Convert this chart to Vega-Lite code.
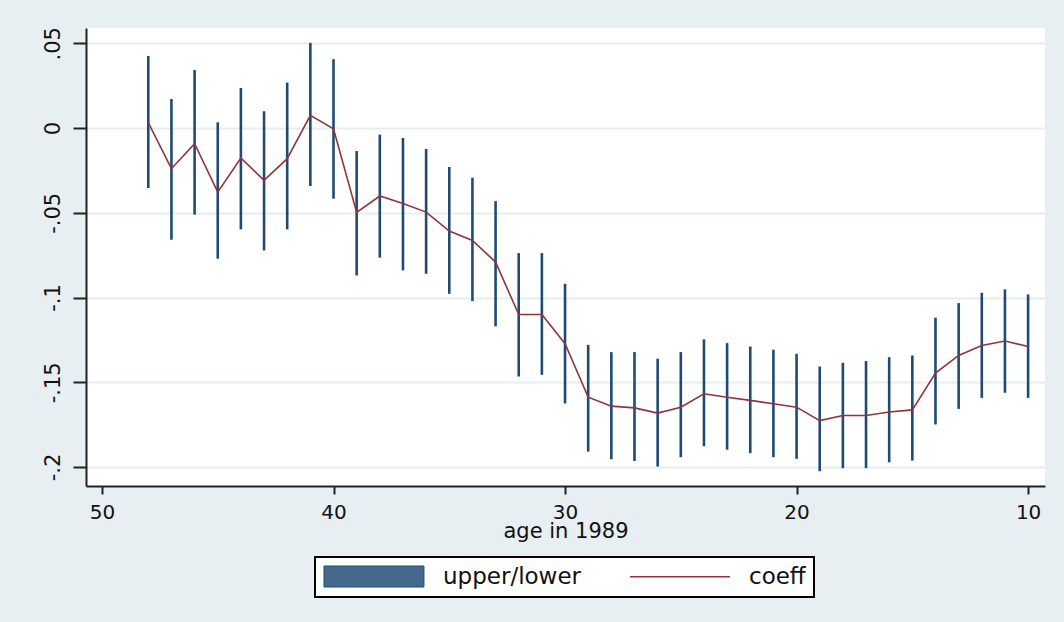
{
  "$schema": "https://vega.github.io/schema/vega-lite/v6.json",
  "width": 959,
  "height": 458,
  "autosize": {"type": "none"},
  "padding": {"left": 86, "top": 28, "right": 19, "bottom": 136},
  "background": "#e8eff2",
  "config": {"font": "DejaVu Sans", "view": {"fill": "#ffffff", "stroke": null}},
  "data": {"values": [
    {"age": 48, "coeff": 0.0032, "upper": 0.0425, "lower": -0.0354},
    {"age": 47, "coeff": -0.024, "upper": 0.0171, "lower": -0.0659},
    {"age": 46, "coeff": -0.0092, "upper": 0.0342, "lower": -0.0511},
    {"age": 45, "coeff": -0.0378, "upper": 0.0034, "lower": -0.0771},
    {"age": 44, "coeff": -0.0177, "upper": 0.0236, "lower": -0.0598},
    {"age": 43, "coeff": -0.0309, "upper": 0.0099, "lower": -0.0722},
    {"age": 42, "coeff": -0.0181, "upper": 0.0268, "lower": -0.0598},
    {"age": 41, "coeff": 0.0075, "upper": 0.0502, "lower": -0.0342},
    {"age": 40, "coeff": -0.0005, "upper": 0.0406, "lower": -0.0417},
    {"age": 39, "coeff": -0.0498, "upper": -0.0136, "lower": -0.087},
    {"age": 38, "coeff": -0.0401, "upper": -0.0039, "lower": -0.0765},
    {"age": 37, "coeff": -0.0446, "upper": -0.0059, "lower": -0.084},
    {"age": 36, "coeff": -0.0496, "upper": -0.0124, "lower": -0.086},
    {"age": 35, "coeff": -0.0608, "upper": -0.023, "lower": -0.0978},
    {"age": 34, "coeff": -0.0663, "upper": -0.0293, "lower": -0.1021},
    {"age": 33, "coeff": -0.0791, "upper": -0.0431, "lower": -0.117},
    {"age": 32, "coeff": -0.11, "upper": -0.0738, "lower": -0.1466},
    {"age": 31, "coeff": -0.11, "upper": -0.0738, "lower": -0.1456},
    {"age": 30, "coeff": -0.1273, "upper": -0.0919, "lower": -0.1625},
    {"age": 29, "coeff": -0.1588, "upper": -0.1279, "lower": -0.1909},
    {"age": 28, "coeff": -0.1641, "upper": -0.1322, "lower": -0.1954},
    {"age": 27, "coeff": -0.1651, "upper": -0.1322, "lower": -0.1964},
    {"age": 26, "coeff": -0.1682, "upper": -0.1361, "lower": -0.1997},
    {"age": 25, "coeff": -0.1647, "upper": -0.1322, "lower": -0.1942},
    {"age": 24, "coeff": -0.1568, "upper": -0.1247, "lower": -0.1877},
    {"age": 23, "coeff": -0.1588, "upper": -0.1269, "lower": -0.1898},
    {"age": 22, "coeff": -0.1607, "upper": -0.1289, "lower": -0.1918},
    {"age": 21, "coeff": -0.1627, "upper": -0.1308, "lower": -0.1942},
    {"age": 20, "coeff": -0.1647, "upper": -0.1332, "lower": -0.1952},
    {"age": 19, "coeff": -0.1726, "upper": -0.1407, "lower": -0.2025},
    {"age": 18, "coeff": -0.1696, "upper": -0.1385, "lower": -0.2007},
    {"age": 17, "coeff": -0.1696, "upper": -0.1375, "lower": -0.2007},
    {"age": 16, "coeff": -0.1675, "upper": -0.1352, "lower": -0.1972},
    {"age": 15, "coeff": -0.1663, "upper": -0.1342, "lower": -0.1962},
    {"age": 14, "coeff": -0.1446, "upper": -0.1119, "lower": -0.1749},
    {"age": 13, "coeff": -0.1342, "upper": -0.1033, "lower": -0.1657},
    {"age": 12, "coeff": -0.1283, "upper": -0.0972, "lower": -0.1592},
    {"age": 11, "coeff": -0.1257, "upper": -0.0952, "lower": -0.1562},
    {"age": 10, "coeff": -0.1289, "upper": -0.0982, "lower": -0.1592}
  ]},
  "encoding": {
    "x": {
      "field": "age", "type": "quantitative",
      "scale": {"domain": [9.27, 50.69], "reverse": true, "nice": false, "zero": false},
      "axis": {
        "values": [10, 20, 30, 40, 50], "title": "age in 1989", "grid": false,
        "tickSize": 8, "tickWidth": 2, "tickColor": "#222", "domainColor": "#222", "domainWidth": 2,
        "labelFontSize": 20, "labelColor": "#111", "labelPadding": 8, "labelFlush": false,
        "titleFontSize": 21, "titleFontWeight": "normal", "titleColor": "#111", "titlePadding": -2
      }
    }
  },
  "layer": [
    {
      "mark": {"type": "rule", "strokeWidth": 2.6},
      "encoding": {
        "y": {
          "field": "lower", "type": "quantitative",
          "scale": {"domain": [-0.2112, 0.059], "nice": false, "zero": false},
          "axis": {
            "values": [-0.2, -0.15, -0.1, -0.05, 0, 0.05], "title": null,
            "grid": true, "gridColor": "#e4edf1", "gridWidth": 2,
            "tickSize": 13, "tickWidth": 2, "tickColor": "#222", "domainColor": "#222", "domainWidth": 2,
            "labelAngle": 270, "labelAlign": "center", "labelBaseline": "bottom",
            "labelFontSize": 21, "labelColor": "#111", "labelPadding": 10,
            "labelExpr": "replace(replace(format(datum.value, '.2~f'), '0.', '.'), '\u2212', '-')"
          }
        },
        "y2": {"field": "upper"},
        "color": {
          "datum": "upper/lower", "type": "nominal",
          "scale": {"domain": ["upper/lower", "coeff"], "range": ["#1f4b73", "#90353b"]},
          "legend": {
            "title": null, "orient": "none", "legendX": 229, "legendY": 529,
            "direction": "horizontal", "columns": 2,
            "symbolSize": 441, "labelOffset": 97, "columnPadding": 44,
            "labelFontSize": 23, "labelColor": "#111", "padding": 8,
            "strokeColor": "#000", "fillColor": "#ffffff",
            "encode": {
              "symbols": {"update": {
                "shape": {"signal": "datum.value === 'coeff' ? 'M-1,0H8.52' : 'M-1,-1H8.52V1H-1Z'"},
                "fill": {"signal": "datum.value === 'coeff' ? 'transparent' : '#46698b'"},
                "stroke": {"signal": "datum.value === 'coeff' ? '#90353b' : '#2b4e70'"},
                "strokeWidth": {"signal": "datum.value === 'coeff' ? 1.6 : 1"},
                "opacity": {"value": 1}
              }},
              "legend": {"update": {"strokeWidth": {"value": 2}}}
            }
          }
        }
      }
    },
    {
      "mark": {"type": "line", "strokeWidth": 1.6},
      "encoding": {
        "y": {"field": "coeff", "type": "quantitative"},
        "color": {"datum": "coeff", "type": "nominal"}
      }
    }
  ]
}
